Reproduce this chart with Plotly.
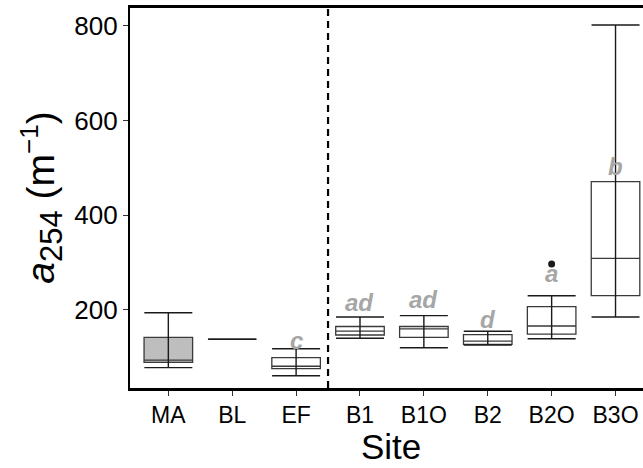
import plotly.graph_objects as go

# ---- data ----
sites = ["MA", "BL", "EF", "B1", "B1O", "B2", "B2O", "B3O"]
lower = [78, 138, 61, 140, 120, 126, 139, 185]
q1 = [89, 138, 76, 147, 142, 127, 149, 230]
median = [94, 138, 81, 155, 160, 134, 166, 309]
q3 = [142, 138, 99, 165, 165, 148, 207, 471]
upper = [194, 138, 118, 185, 188, 155, 230, 802]
fills = ["#BEBEBE", "white", "white", "white", "white", "white", "white", "white"]

outlier_sites = ["B2O"]
outlier_vals = [297]

letters = ["", "", "c", "ad", "ad", "d", "a", "b"]
letter_y = [None, None, 135, 215, 221, 179, 276, 503]

yticks = [200, 400, 600, 800]

FONT = "Liberation Sans, Arial, sans-serif"

fig = go.Figure()

for i, s in enumerate(sites):
    fig.add_trace(go.Box(
        x=[s], q1=[q1[i]], median=[median[i]], q3=[q3[i]],
        lowerfence=[q1[i]], upperfence=[q3[i]],
        width=0.76, fillcolor=fills[i],
        line=dict(color="#3a3a3a", width=1.3),
        boxpoints=False, showlegend=False, hoverinfo="skip",
    ))

# error-bar style whiskers (caps at both ends, line through the box)
fig.add_trace(go.Scatter(
    x=sites, y=lower, mode="markers",
    marker=dict(size=1, color="rgba(0,0,0,0)"),
    error_y=dict(type="data", symmetric=False,
                 array=[u - l for u, l in zip(upper, lower)],
                 arrayminus=[0] * len(sites),
                 color="#1a1a1a", thickness=1.4, width=24),
    showlegend=False, hoverinfo="skip",
))

fig.add_trace(go.Scatter(
    x=outlier_sites, y=outlier_vals, mode="markers",
    marker=dict(size=7, color="#1a1a1a"),
    showlegend=False, hoverinfo="skip",
))

for s, t, yv in zip(sites, letters, letter_y):
    if t:
        fig.add_annotation(x=s, y=yv, text="<b><i>" + t + "</i></b>",
                           showarrow=False, xref="x", yref="y",
                           xanchor="center", yanchor="middle",
                           font=dict(family=FONT, size=24, color="#A6A6A6"))

# dashed separator between EF and B1
fig.add_shape(type="line", xref="x", yref="paper", x0=2.5, x1=2.5, y0=0, y1=1,
              line=dict(color="black", width=2.2, dash="7px,5px"))

fig.add_annotation(xref="paper", yref="paper", x=0.508, y=-0.155,
                   xanchor="center", yanchor="middle",
                   text="Site", showarrow=False,
                   font=dict(family=FONT, size=35, color="black"))
fig.add_annotation(xref="paper", yref="paper", x=-0.172, y=0.50,
                   xanchor="center", yanchor="middle",
                   text=("<i>a</i><sub><span style='font-size:31px'>254</span></sub>"
                         " (m<sup><span style='font-size:26px'>−1</span></sup>)"),
                   textangle=-90, showarrow=False,
                   font=dict(family=FONT, size=39, color="black"))

fig.update_layout(
    width=643, height=468,
    margin=dict(l=130, r=0, t=8, b=80),
    paper_bgcolor="white", plot_bgcolor="white",
    boxmode="overlay",
    font=dict(family=FONT, color="black"),
    xaxis=dict(
        type="category", categoryorder="array", categoryarray=sites,
        range=[-0.6, 7.43], showgrid=False, zeroline=False,
        showline=True, linecolor="black", linewidth=2.5, mirror=True,
        ticks="outside", ticklen=5, tickwidth=1, tickcolor="#333333",
        tickfont=dict(family=FONT, size=23, color="black"),
    ),
    yaxis=dict(
        range=[35, 838], tickvals=yticks, showgrid=False, zeroline=False,
        showline=True, linecolor="black", linewidth=2.2,
        ticks="outside", ticklen=5, tickwidth=1, tickcolor="#333333",
        tickfont=dict(family=FONT, size=26, color="black"),
    ),
)

fig.write_html("out.html")
